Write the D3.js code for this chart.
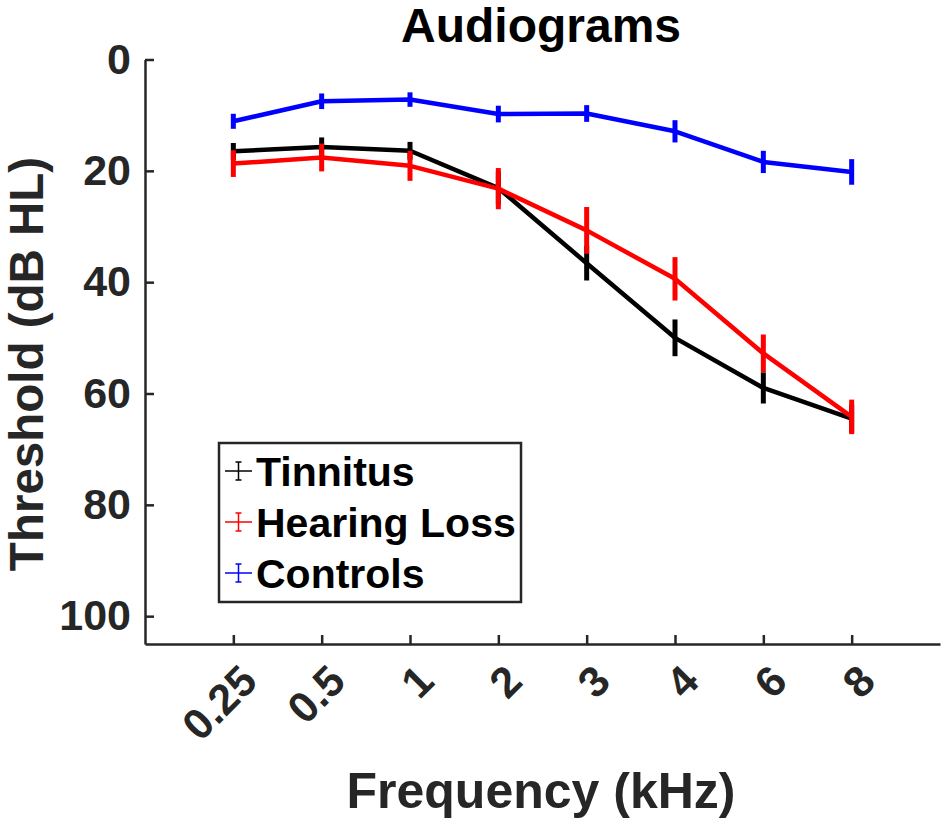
<!DOCTYPE html>
<html>
<head>
<meta charset="utf-8">
<script src="https://cdn.jsdelivr.net/npm/d3@7/dist/d3.min.js"></script>
<style>
  html, body { margin: 0; padding: 0; background: #fff; }
  svg { display: block; font-family: "Liberation Sans", Arial, Helvetica, sans-serif; font-weight: bold; }
</style>
</head>
<body>
<svg id="chart" width="944" height="824"></svg>
<script>
const freqs = ["0.25", "0.5", "1", "2", "3", "4", "6", "8"];
const yTicks = [0, 20, 40, 60, 80, 100];

const tinnitus       = [16.5, 15.7, 16.4, 23.1, 36.6, 50.0, 59.0, 64.5];
const tinnitusErr    = [1.5, 1.7, 1.6, 3.0, 3.1, 3.3, 2.8, 2.5];
const hearingLoss    = [18.7, 17.6, 19.1, 23.2, 30.7, 39.4, 52.8, 64.2];
const hearingLossErr = [2.4, 2.5, 2.7, 3.7, 4.2, 3.9, 3.4, 3.1];
const controls       = [11.1, 7.5, 7.2, 9.8, 9.7, 12.9, 18.4, 20.2];
const controlsErr    = [1.35, 1.4, 1.3, 1.5, 1.5, 2.0, 2.0, 2.3];

const seriesNames  = ["Tinnitus", "Hearing Loss", "Controls"];
const seriesColors = ["#000000", "#ff0000", "#0000ff"];
const seriesVals   = [tinnitus, hearingLoss, controls];
const seriesErrs   = [tinnitusErr, hearingLossErr, controlsErr];

const svg = d3.select("#chart");
const axisColor = "#262626";

const x = d3.scaleLinear().domain([0, 9]).range([145, 940]);
const y = d3.scaleLinear().domain([0, 105]).range([59.5, 644]);

// Axes
const yAxis = d3.axisLeft(y).tickValues(yTicks).tickSizeInner(-9).tickSizeOuter(0).tickPadding(14);
const gy = svg.append("g").attr("transform", `translate(${x(0)},0)`).call(yAxis);
gy.select(".domain").attr("stroke", axisColor).attr("stroke-width", 2.5);
gy.selectAll(".tick line").attr("stroke", axisColor).attr("stroke-width", 2.5);
gy.selectAll(".tick text").attr("fill", axisColor).attr("font-size", 43).attr("font-weight", "bold")
  .attr("font-family", "Liberation Sans, Arial, sans-serif");

const xAxis = d3.axisBottom(x).tickValues(d3.range(1, freqs.length + 1))
  .tickFormat(i => freqs[i - 1]).tickSizeInner(-9).tickSizeOuter(0);
const gx = svg.append("g").attr("transform", `translate(0,${y(105)})`).call(xAxis);
gx.select(".domain").attr("stroke", axisColor).attr("stroke-width", 2.5);
gx.selectAll(".tick line").attr("stroke", axisColor).attr("stroke-width", 2.5);
gx.selectAll(".tick text").attr("fill", axisColor).attr("font-size", 43).attr("font-weight", "bold")
  .attr("font-family", "Liberation Sans, Arial, sans-serif")
  .attr("text-anchor", "end").attr("dy", null).attr("y", null)
  .attr("transform", "translate(15,29) rotate(-45)")
  .attr("dominant-baseline", "central");

// Series
const line = d3.line().x((d, i) => x(i + 1)).y(d => y(d));
seriesVals.forEach((vals, s) => {
  const g = svg.append("g");
  g.append("path").datum(vals).attr("d", line).attr("fill", "none")
    .attr("stroke", seriesColors[s]).attr("stroke-width", 4.5).attr("stroke-linejoin", "round");
  g.selectAll("line.err").data(vals).enter().append("line").attr("class", "err")
    .attr("x1", (d, i) => x(i + 1)).attr("x2", (d, i) => x(i + 1))
    .attr("y1", (d, i) => y(d - seriesErrs[s][i])).attr("y2", (d, i) => y(d + seriesErrs[s][i]))
    .attr("stroke", seriesColors[s]).attr("stroke-width", 5);
});

// Title & labels
svg.append("text").attr("x", 541).attr("y", 42).attr("text-anchor", "middle")
  .attr("font-size", 48).attr("fill", "#000").text("Audiograms");
svg.append("text").attr("x", 541).attr("y", 808).attr("text-anchor", "middle")
  .attr("font-size", 50).attr("fill", axisColor).text("Frequency (kHz)");
svg.append("text").attr("transform", "translate(43,364) rotate(-90)").attr("text-anchor", "middle")
  .attr("font-size", 47.5).attr("fill", axisColor).text("Threshold (dB HL)");

// Legend
const lg = svg.append("g");
lg.append("rect").attr("x", 219).attr("y", 443).attr("width", 302).attr("height", 159)
  .attr("fill", "#fff").attr("stroke", axisColor).attr("stroke-width", 2.5);
seriesNames.forEach((name, s) => {
  const cy = 471 + s * 51;
  lg.append("line").attr("x1", 225).attr("x2", 252).attr("y1", cy).attr("y2", cy)
    .attr("stroke", seriesColors[s]).attr("stroke-width", 1.5);
  lg.append("line").attr("x1", 238.5).attr("x2", 238.5).attr("y1", cy - 9).attr("y2", cy + 9)
    .attr("stroke", seriesColors[s]).attr("stroke-width", 1.5);
  [cy - 9, cy + 9].forEach(yy => lg.append("line").attr("x1", 235.5).attr("x2", 241.5)
    .attr("y1", yy).attr("y2", yy).attr("stroke", seriesColors[s]).attr("stroke-width", 1.5));
  lg.append("text").attr("x", 256).attr("y", cy + 14.5).attr("font-size", 41).attr("fill", "#000").text(name);
});
</script>
</body>
</html>
